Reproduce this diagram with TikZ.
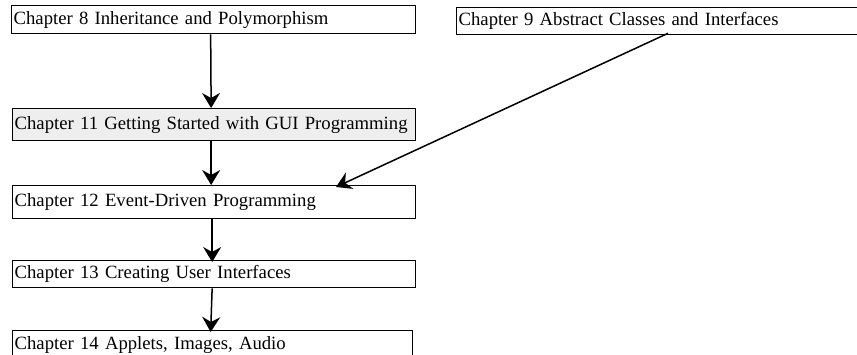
\documentclass[tikz,border=0pt]{standalone}
\usepackage{fontspec}
\setmainfont{Liberation Serif}
\usetikzlibrary{arrows.meta}
\definecolor{guifill}{RGB}{238,238,238}
\begin{document}
\begin{tikzpicture}[x=1pt, y=-1pt,
  chapbox/.style={draw, line width=1.3pt, anchor=north west, inner sep=1pt,
    font=\fontsize{18.7}{20}\selectfont, align=left},
  dep/.style={line width=1.5pt, -{Stealth[length=15pt, width=18pt, inset=5pt]}}]
\useasboundingbox (0,0) rectangle (857,354);
\clip (0,0) rectangle (857,354);

\node[chapbox, minimum width=404pt, minimum height=28pt, text width=400pt] (b8) at (11,5)
  {Chapter 8 Inheritance and Polymorphism};
\node[chapbox, minimum width=401pt, minimum height=27pt, text width=397pt] (b9) at (456,7)
  {Chapter 9 Abstract Classes and Interfaces};
\node[chapbox, fill=guifill, minimum width=403pt, minimum height=32pt, text width=399pt] (b11) at (12,108)
  {Chapter 11 Getting Started with GUI Programming};
\node[chapbox, minimum width=403pt, minimum height=33pt, text width=399pt] (b12) at (12,185)
  {Chapter 12 Event-Driven Programming};
\node[chapbox, minimum width=403pt, minimum height=27pt, text width=399pt] (b13) at (12,260)
  {Chapter 13 Creating User Interfaces};
\node[chapbox, minimum width=400pt, minimum height=28pt, text width=396pt] (b14) at (12,330)
  {Chapter 14 Applets, Images, Audio};

\draw[dep] ([xshift=-3pt]b8.south) -- ([xshift=-3pt]b11.north);
\draw[dep] ([xshift=-3pt]b11.south) -- ([xshift=-3pt]b12.north);
\draw[dep] ([xshift=-2pt]b12.south) -- ([xshift=-2pt, yshift=-2pt]b13.north);
\draw[dep] ([xshift=-2pt]b13.south) -- ([xshift=-2pt, yshift=-2pt]b14.north);
\draw[dep] ([xshift=212pt, yshift=2pt]b9.south west) -- ([xshift=324pt, yshift=-2pt]b12.north west);
\end{tikzpicture}
\end{document}
